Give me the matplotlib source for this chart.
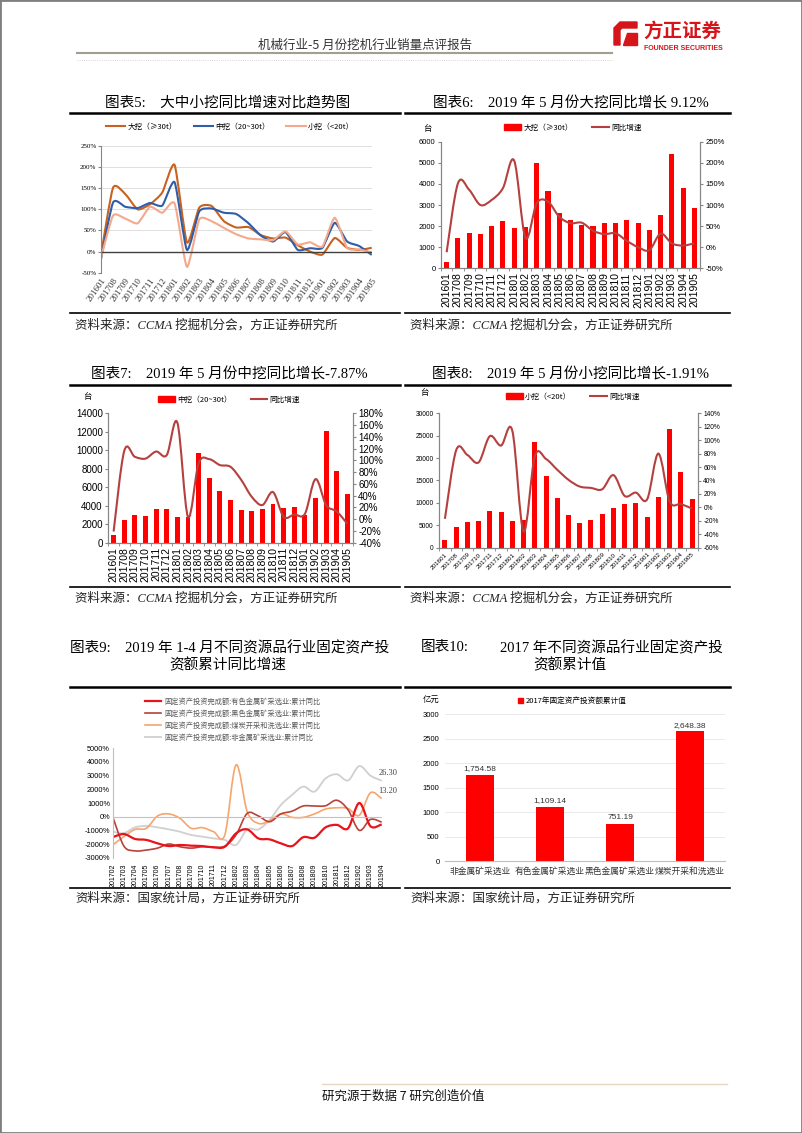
import matplotlib
matplotlib.use('Agg')
import matplotlib.pyplot as plt
import numpy as np
from matplotlib.path import Path
from matplotlib.patches import PathPatch, Rectangle, Polygon
from matplotlib.lines import Line2D
from matplotlib.transforms import Affine2D
from matplotlib.ticker import FuncFormatter

# ---- data ----
months = ['201601', '201708', '201709', '201710', '201711', '201712',
          '201801', '201802', '201803', '201804', '201805', '201806',
          '201807', '201808', '201809', '201810', '201811', '201812',
          '201901', '201902', '201903', '201904', '201905']

big_units = [284, 1450, 1670, 1630, 2000, 2220, 1910, 1950, 4990, 3640, 2630,
             2280, 2050, 2000, 2170, 2130, 2280, 2130, 1810, 2540, 5440, 3800, 2880]
big_yoy = [-12, 151, 136, 100, 112, 140, 205, 22, 104, 108, 72, 57, 58, 39, 31,
           33, 15, 0, -7, 32, 9, 4, 9.12]

mid_units = [830, 2420, 2960, 2890, 3610, 3610, 2740, 2820, 9710, 7000, 5630,
             4590, 3540, 3470, 3650, 4190, 3790, 3900, 3030, 4870, 12130, 7800, 5270]
mid_yoy = [-21, 116, 106, 103, 115, 109, 164, 4, 95, 102, 92, 89, 67, 38, 24,
           46, 4, 8, 9, 68, 24, 13, -7.87]

small_units = [1640, 4610, 5730, 5950, 8180, 8040, 5950, 6250, 23590, 15920,
               11010, 7220, 5510, 6180, 7520, 8930, 9670, 9900, 6770, 11380,
               26560, 16960, 10790]
small_yoy = [-17, 85, 78, 67, 106, 92, 114, -36, 76, 72, 56, 41, 31, 29, 27,
             48, 17, 22, 12, 80, 9, 5, -1.91]

inv_months = ['201702', '201703', '201704', '201705', '201706', '201707',
              '201708', '201709', '201710', '201711', '201712', '201802',
              '201803', '201804', '201805', '201806', '201807', '201808',
              '201809', '201810', '201811', '201812', '201902', '201903', '201904']
nonferrous = [-15, -12.7, -16.3, -17, -19.5, -21.5, -20.7, -21.2, -21.5, -22.4,
              -22, -12.2, -9.3, -15.9, -16.6, -19.5, -21.5, -15, -15.4, -7.8,
              -6, -8.5, 10, -7, -5.6]
ferrous = [0, -21.5, -25, -24.4, -23, -20, -22, -23, -22, -22.4, -21.5, -13.4,
           2.4, 0.5, -3.7, 2, 4, 7.8, 7.8, 8, 12, 5, -10, -2, -4]
coal = [-20.7, -14.6, -9.3, -8.5, 0.5, 2, -1.2, -8.5, -8, -11, -13.4, 37.8,
        3.7, -4.9, -2.9, 2, -0.5, -0.5, 2, 5.6, 6.5, 6, 1, 17.5, 13.2]
nonmetal = [-11, -12, -7.8, -6.8, -7.8, -9.3, -11, -13.4, -14.6, -15.9, -17,
            -20.7, -9.3, -9.3, -2.4, 8.5, 15.9, 22, 18.3, 28, 31, 26.5, 37, 30, 26.3]

sectors = ['非金属矿采选业', '有色金属矿采选业', '黑色金属矿采选业', '煤炭开采和洗选业']
invest_2017 = [1754.58, 1109.14, 751.19, 2648.38]

# ---- page setup ----
plt.rcParams['font.family'] = ['Liberation Sans', 'Noto Sans CJK SC']
SERIF = ['Liberation Serif', 'Noto Sans CJK SC']
CJK = ['Noto Sans CJK SC', 'DejaVu Sans']
RED = '#FF0000'
LINE_RED = '#B5403F'
GRID = '#D9D9D9'
AXC = '#868686'

W, H = 802, 1133
fig = plt.figure(figsize=(8.02, 11.33), dpi=100)
pix = Affine2D().scale(1 / W, -1 / H).translate(0, 1) + fig.transFigure


def box(x0, y0, x1, y1):
    return fig.add_axes([x0 / W, 1 - y1 / H, (x1 - x0) / W, (y1 - y0) / H])


def hline(x0, x1, y, **kw):
    fig.add_artist(Line2D([x0, x1], [y, y], transform=pix, **kw))


def ptext(x, y, s, **kw):
    fig.text(x / W, 1 - y / H, s, **kw)


def smooth(ax, x, y, k=1 / 6, **kw):
    # excel style smoothed line drawn as bezier path
    n = len(x)
    verts = [(x[0], y[0])]
    codes = [Path.MOVETO]
    for i in range(n - 1):
        a = i - 1 if i > 0 else i
        d = i + 2 if i + 2 < n else i + 1
        c1 = (x[i] + (x[i + 1] - x[a]) * k, y[i] + (y[i + 1] - y[a]) * k)
        c2 = (x[i + 1] - (x[d] - x[i]) * k, y[i + 1] - (y[d] - y[i]) * k)
        verts += [c1, c2, (x[i + 1], y[i + 1])]
        codes += [Path.CURVE4] * 3
    ax.add_patch(PathPatch(Path(verts, codes), fill=False, **kw))


def frame(x0, x1, ytop, ybot, ysrc, src):
    hline(x0, x1, ytop, color='black', lw=1.8)
    hline(x0, x1, ybot, color='black', lw=1.2)
    ptext(x0 + 5, ysrc, src, fontsize=9, family=SERIF, style='italic',
          va='center', color='#222222')


# page border
fig.add_artist(Rectangle((0, 0), 1, 1, transform=fig.transFigure, fill=False,
                         edgecolor='#7F7F7F', lw=2))

# header
ptext(365, 45, '机械行业-5 月份挖机行业销量点评报告', fontsize=9, family=CJK,
      ha='center', va='center', color='#333333')
hline(77, 612, 53, color='#A39F90', lw=1.5)
hline(77, 612, 60, color='#C8C8C8', lw=0.6, ls=':')
fig.add_artist(Polygon([(614, 45), (614, 28), (620, 22), (637, 22), (637, 28),
                        (622, 28), (620, 30), (620, 45)], closed=True,
                       transform=pix, color='#D7141A'))
fig.add_artist(Polygon([(627, 33), (637, 33), (637, 45), (623, 45)], closed=True,
                       transform=pix, color='#D7141A'))
ptext(682, 31, '方正证券', fontsize=14, family=CJK, weight='bold',
      ha='center', va='center', color='#D7141A')
ptext(683, 48, 'FOUNDER SECURITIES', fontsize=5, weight='bold',
      ha='center', va='center', color='#D7141A')

# footer
hline(322, 727, 1084, color='#EAD7C3', lw=1)
ptext(322, 1096, '研究源于数据 7 研究创造价值', fontsize=9, family=CJK,
      va='center', color='#111111')

# ---- chart 5 ----
ptext(228, 103, '图表5:    大中小挖同比增速对比趋势图', fontsize=10.5,
      family=SERIF, ha='center', va='center')
frame(70, 400, 113, 313, 325, '资料来源：CCMA 挖掘机分会，方正证券研究所')
ax = box(100.7, 146, 371.7, 272.7)
xs = np.arange(len(months))
c5 = ['#C8621E', '#2F5DA8', '#F4A98C']
for ys, c in zip([big_yoy, mid_yoy, small_yoy], c5):
    smooth(ax, xs, ys, k=0.1, color=c, lw=1.5)
ax.set_xlim(0, len(months) - 1)
ax.set_ylim(-50, 250)
ax.set_yticks(range(-50, 251, 50))
ax.yaxis.set_major_formatter(FuncFormatter(lambda v, p: f'{v:.0f}%'))
ax.grid(axis='y', color=GRID, lw=0.6)
ax.set_axisbelow(True)
ax.axhline(0, color='#404040', lw=1)
for s in ['top', 'right', 'bottom']:
    ax.spines[s].set_visible(False)
ax.spines['left'].set_color(AXC)
ax.set_xticks(xs)
ax.set_xticklabels(months, rotation=55, ha='right', rotation_mode='anchor',
                   fontsize=6.5, family=SERIF, color='#333333')
ax.tick_params(axis='x', length=0, pad=3)
ax.tick_params(axis='y', labelsize=5, length=2, color=AXC, pad=1)
for t in ax.get_yticklabels():
    t.set_family(SERIF)
fig.legend([Line2D([], [], color=c, lw=1.5) for c in c5],
           ['大挖（≥30t）', '中挖（20~30t）', '小挖（<20t）'], ncol=3,
           loc='center', bbox_to_anchor=(230 / W, 1 - 127 / H), frameon=False,
           prop={'family': CJK, 'size': 5.5}, handlelength=2.5, columnspacing=2.2,
           handletextpad=0.3)


# ---- charts 6,7,8 : bars + yoy line ----
def bar_line(rect, units, yoy, ymax, ystep, rlim, rstep, bar_label, leg_xy,
             tai_xy, ytsize, xtsize, xrot):
    ax = box(*rect)
    xs = np.arange(len(months))
    ax.bar(xs, units, width=0.45, color=RED)
    ax.set_xlim(-0.5, len(months) - 0.5)
    ax.set_ylim(0, ymax)
    ax.set_yticks(np.arange(0, ymax + 1, ystep))
    ax2 = ax.twinx()
    smooth(ax2, xs, yoy, color=LINE_RED, lw=1.5)
    ax2.set_ylim(*rlim)
    ax2.set_yticks(np.arange(rlim[0], rlim[1] + 1, rstep))
    ax2.yaxis.set_major_formatter(FuncFormatter(lambda v, p: f'{v:.0f}%'))
    for a in (ax, ax2):
        a.spines['top'].set_visible(False)
        for s in ['left', 'right', 'bottom']:
            a.spines[s].set_color(AXC)
        a.tick_params(axis='y', labelsize=ytsize, length=2, color=AXC, pad=2)
    ax.set_xticks(xs)
    if xrot == 90:
        ax.set_xticklabels(months, rotation=90, fontsize=xtsize)
    else:
        ax.set_xticklabels(months, rotation=xrot, ha='right',
                           rotation_mode='anchor', fontsize=xtsize)
    ax.tick_params(axis='x', length=0, pad=3)
    ax.set_xticks(np.arange(-0.5, len(months), 1), minor=True)
    ax.tick_params(axis='x', which='minor', length=2, color=AXC)
    ptext(tai_xy[0], tai_xy[1], '台', fontsize=6, family=CJK, va='center')
    fig.legend([Rectangle((0, 0), 1, 1, color=RED),
                Line2D([], [], color=LINE_RED, lw=1.5)],
               [bar_label, '同比增速'], ncol=2, loc='center',
               bbox_to_anchor=(leg_xy[0] / W, 1 - leg_xy[1] / H), frameon=False,
               prop={'family': CJK, 'size': 5.5}, handlelength=2.2,
               handleheight=0.8, columnspacing=2.5, handletextpad=0.3)


ptext(571, 103, '图表6:    2019 年 5 月份大挖同比增长 9.12%', fontsize=10.5,
      family=SERIF, ha='center', va='center')
frame(405, 730, 113, 313, 325, '资料来源：CCMA 挖掘机分会，方正证券研究所')
bar_line((441, 141.7, 700, 268.3), big_units, big_yoy, 6000, 1000, (-50, 250),
         50, '大挖（≥30t）', (573, 128), (423, 128), 5.5, 7.5, 90)

ptext(229, 374, '图表7:    2019 年 5 月份中挖同比增长-7.87%', fontsize=10.5,
      family=SERIF, ha='center', va='center')
frame(70, 400, 385, 587, 598, '资料来源：CCMA 挖掘机分会，方正证券研究所')
bar_line((108.3, 413.3, 352.7, 542.7), mid_units, mid_yoy, 14000, 2000,
         (-40, 180), 20, '中挖（20~30t）', (229, 400), (83, 397), 7, 7.5, 90)

ptext(571, 374, '图表8:    2019 年 5 月份小挖同比增长-1.91%', fontsize=10.5,
      family=SERIF, ha='center', va='center')
frame(405, 730, 385, 587, 598, '资料来源：CCMA 挖掘机分会，方正证券研究所')
bar_line((439.3, 413.3, 697.7, 547.7), small_units, small_yoy, 30000, 5000,
         (-60, 140), 20, '小挖（<20t）', (573, 397), (420, 393), 4.8, 4.5, 45)

# ---- chart 9 ----
ptext(230, 648, '图表9:    2019 年 1-4 月不同资源品行业固定资产投', fontsize=10.5,
      family=SERIF, ha='center', va='center')
ptext(228, 665, '资额累计同比增速', fontsize=10.5, family=SERIF, ha='center',
      va='center')
frame(70, 400, 687, 888, 898, '资料来源：国家统计局，方正证券研究所')
ax = box(112.7, 748.3, 381.7, 857.7)
xs = np.arange(len(inv_months))
c9 = ['#E8141B', '#B8413B', '#F5A56E', '#D0D0D0']
w9 = [1.6, 1.2, 1.2, 1.3]
series9 = [nonferrous, ferrous, coal, nonmetal]
for ys, c, w in zip(series9[::-1], c9[::-1], w9[::-1]):
    smooth(ax, xs, ys, color=c, lw=w)
ax.set_xlim(0, len(inv_months) - 1)
ax.set_ylim(-30, 50)
ax.set_yticks(range(-30, 51, 10))
ax.yaxis.set_major_formatter(FuncFormatter(lambda v, p: f'{v * 100:.0f}%'))
ax.axhline(0, color='#B9C3D3', lw=0.8)
for s in ['top', 'right', 'bottom']:
    ax.spines[s].set_visible(False)
ax.spines['left'].set_color('#BFBFBF')
ax.set_xticks(xs)
ax.set_xticklabels(inv_months, rotation=90, fontsize=5)
ax.tick_params(axis='x', length=0, pad=4)
ax.tick_params(axis='y', labelsize=5.3, length=0, pad=2)
ax.text(xs[-1] - 0.3, nonmetal[-1] + 2.5, f'{nonmetal[-1]:.2f}', fontsize=6,
        family=SERIF, color='#404040', va='bottom')
ax.text(xs[-1] - 0.3, coal[-1] + 2.5, f'{coal[-1]:.2f}', fontsize=6,
        family=SERIF, color='#404040', va='bottom')
fig.legend([Line2D([], [], color=c, lw=w) for c, w in zip(c9, w9)],
           ['固定资产投资完成额:有色金属矿采选业:累计同比',
            '固定资产投资完成额:黑色金属矿采选业:累计同比',
            '固定资产投资完成额:煤炭开采和洗选业:累计同比',
            '固定资产投资完成额:非金属矿采选业:累计同比'],
           loc='upper left', bbox_to_anchor=(138 / W, 1 - 691 / H), frameon=False,
           prop={'family': CJK, 'size': 5.2}, labelcolor='#595959',
           handlelength=2.3, handletextpad=0.5, labelspacing=0.55)

# ---- chart 10 ----
ptext(445, 648, '图表10:', fontsize=10.5, family=SERIF, ha='center', va='center')
ptext(611, 648, '2017 年不同资源品行业固定资产投', fontsize=10.5, family=SERIF,
      ha='center', va='center')
ptext(570, 665, '资额累计值', fontsize=10.5, family=SERIF, ha='center',
      va='center')
frame(405, 730, 687, 888, 898, '资料来源：国家统计局，方正证券研究所')
ax = box(445, 714.3, 725, 861)
xs = np.arange(len(sectors))
bars = ax.bar(xs, invest_2017, width=0.4, color=RED)
ax.bar_label(bars, labels=[f'{v:,.2f}' for v in invest_2017], padding=2,
             fontsize=6, color='#333333')
ax.set_xlim(-0.5, len(sectors) - 0.5)
ax.set_ylim(0, 3000)
ax.set_yticks(range(0, 3001, 500))
ax.grid(axis='y', color='#E6E6E6', lw=0.6)
ax.set_axisbelow(True)
for s in ['top', 'right', 'left']:
    ax.spines[s].set_visible(False)
ax.spines['bottom'].set_color('#BFBFBF')
ax.set_xticks(xs)
ax.set_xticklabels(sectors, fontsize=6.3, family=CJK, color='#333333')
ax.tick_params(axis='x', length=0, pad=4)
ax.tick_params(axis='y', labelsize=5.5, length=0, pad=4)
ptext(423, 699, '亿元', fontsize=6, family=CJK, va='center', style='italic')
fig.legend([Rectangle((0, 0), 1, 1, color=RED)], ['2017年固定资产投资额累计值'],
           loc='center', bbox_to_anchor=(572 / W, 1 - 701 / H), frameon=False,
           prop={'family': CJK, 'size': 5.5}, handlelength=0.7, handleheight=0.7,
           handletextpad=0.3)

fig.savefig('out.png', dpi=100)
